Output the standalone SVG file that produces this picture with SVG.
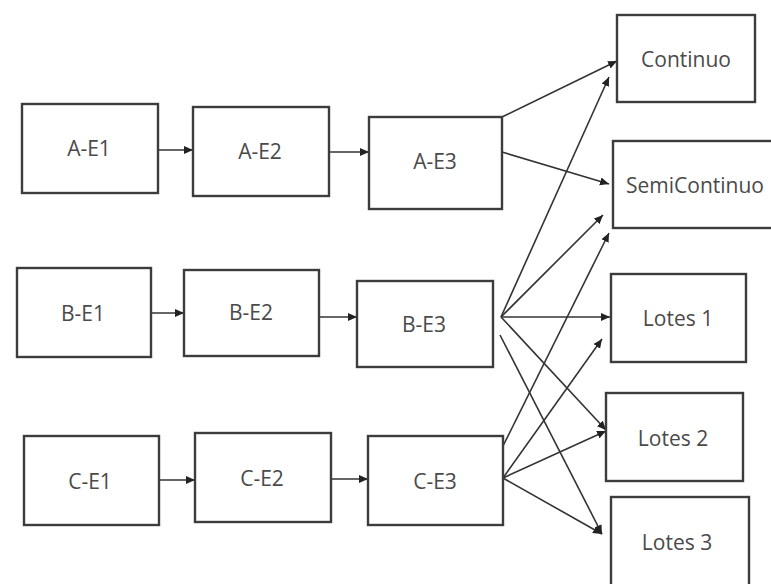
<svg xmlns="http://www.w3.org/2000/svg" width="771" height="584" viewBox="0 0 771 584">
<style>
.box{fill:#fff;stroke:#3c3c3c;stroke-width:2.4}
.lbl{font-family:"Open Sans","Liberation Sans",sans-serif;font-size:21px;fill:#4a4a4a;text-anchor:middle}
.ln{stroke:#333;stroke-width:1.6;fill:none;marker-end:url(#ah)}
</style>
<defs>
<marker id="ah" markerUnits="userSpaceOnUse" markerWidth="10" markerHeight="9" refX="9" refY="4.5" orient="auto">
<path d="M0,0.5 L9,4.5 L0,8.5 z" fill="#222"/>
</marker>
</defs>
<rect width="771" height="584" fill="#fff"/>
<g id="connectors">
<line class="ln" x1="158" y1="150" x2="193" y2="150"/>
<line class="ln" x1="329" y1="152" x2="369" y2="152"/>
<line class="ln" x1="151" y1="313" x2="184" y2="313"/>
<line class="ln" x1="319" y1="317" x2="357" y2="317"/>
<line class="ln" x1="159" y1="480" x2="195" y2="480"/>
<line class="ln" x1="331" y1="479" x2="368" y2="479"/>
<line class="ln" x1="502" y1="117" x2="617" y2="61"/>
<line class="ln" x1="502" y1="152" x2="609" y2="184"/>
<line class="ln" x1="501" y1="317" x2="609" y2="77"/>
<line class="ln" x1="501" y1="317" x2="603" y2="215"/>
<line class="ln" x1="501" y1="317" x2="610" y2="317"/>
<line class="ln" x1="501" y1="317" x2="606" y2="430"/>
<line class="ln" x1="500" y1="335" x2="602" y2="534"/>
<line class="ln" x1="503" y1="446" x2="609" y2="233"/>
<line class="ln" x1="503" y1="478" x2="602" y2="339"/>
<line class="ln" x1="503" y1="478" x2="606" y2="431"/>
<line class="ln" x1="503" y1="478" x2="602" y2="534"/>
</g>
<g id="A-E1"><rect class="box" x="22" y="104" width="136" height="89"/><text class="lbl" x="89" y="156">A-E1</text></g>
<g id="A-E2"><rect class="box" x="193" y="107" width="136" height="89"/><text class="lbl" x="260" y="159">A-E2</text></g>
<g id="A-E3"><rect class="box" x="369" y="117" width="133" height="92"/><text class="lbl" x="435" y="169">A-E3</text></g>
<g id="B-E1"><rect class="box" x="17" y="268" width="134" height="89"/><text class="lbl" x="83" y="321">B-E1</text></g>
<g id="B-E2"><rect class="box" x="184" y="270" width="135" height="86"/><text class="lbl" x="251" y="320">B-E2</text></g>
<g id="B-E3"><rect class="box" x="357" y="281" width="136" height="86"/><text class="lbl" x="424" y="332">B-E3</text></g>
<g id="C-E1"><rect class="box" x="24" y="436" width="135" height="89"/><text class="lbl" x="90" y="489">C-E1</text></g>
<g id="C-E2"><rect class="box" x="195" y="433" width="136" height="89"/><text class="lbl" x="262" y="486">C-E2</text></g>
<g id="C-E3"><rect class="box" x="368" y="436" width="135" height="89"/><text class="lbl" x="435" y="489">C-E3</text></g>
<g id="Continuo"><rect class="box" x="617" y="15" width="138" height="87"/><text class="lbl" x="686" y="67">Continuo</text></g>
<g id="SemiContinuo"><rect class="box" x="613" y="141" width="170" height="87"/><text class="lbl" x="626" y="193" style="text-anchor:start">SemiContinuo</text></g>
<g id="Lotes1"><rect class="box" x="611" y="274" width="135" height="88"/><text class="lbl" x="678" y="326">Lotes 1</text></g>
<g id="Lotes2"><rect class="box" x="606" y="393" width="137" height="88"/><text class="lbl" x="673" y="446">Lotes 2</text></g>
<g id="Lotes3"><rect class="box" x="611" y="497" width="138" height="92"/><text class="lbl" x="677" y="550">Lotes 3</text></g>
</svg>
